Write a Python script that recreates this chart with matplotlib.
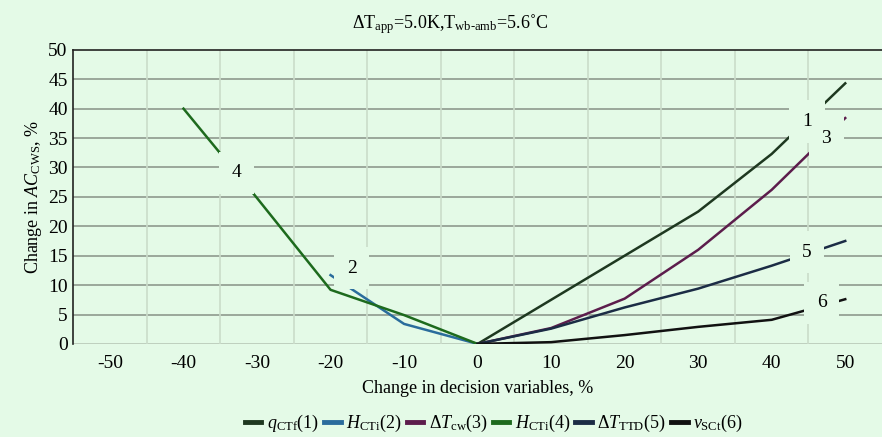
import matplotlib
matplotlib.use('Agg')
import matplotlib.pyplot as plt

plt.rcParams['font.family'] = ['Liberation Serif', 'DejaVu Serif']
plt.rcParams['mathtext.fontset'] = 'custom'
plt.rcParams['mathtext.rm'] = 'Liberation Serif'
plt.rcParams['mathtext.it'] = 'Liberation Serif:italic'
plt.rcParams['axes.unicode_minus'] = False

# data
x_pos = [0, 10, 20, 30, 40, 50]
x_neg = [-40, -30, -20, -10, 0]
x_neg2 = [-20, -10, 0]
q_ctf = [0, 7.5, 15.0, 22.5, 32.3, 44.3]
h_cti2 = [11.7, 3.4, 0]
dt_cw = [0, 2.7, 7.7, 16.0, 26.2, 38.4]
h_cti4 = [40.0, 24.8, 9.2, 4.9, 0]
dt_ttd = [0, 2.6, 6.2, 9.4, 13.3, 17.5]
v_sct = [0, 0.3, 1.5, 2.9, 4.1, 7.6]

xticks = [-50, -40, -30, -20, -10, 0, 10, 20, 30, 40, 50]
yticks = [0, 5, 10, 15, 20, 25, 30, 35, 40, 45, 50]

bg = '#e4fae7'

fig = plt.figure(figsize=(8.82, 4.37), dpi=100, facecolor=bg)
ax = fig.add_axes([0.083, 0.213, 0.917, 0.673], facecolor=bg)

# grid: horizontal at ticks, vertical between category ticks
for y in yticks[1:-1]:
    ax.axhline(y, color='#9aa79a', lw=1.4, zorder=1)
ax.axhline(0, color='#b8c8b8', lw=1.2, zorder=1)
for xv in range(-45, 50, 10):
    ax.axvline(xv, color='#cadcca', lw=1.2, zorder=1)

lw = 1.8
ax.plot(x_pos, q_ctf, color='#1e3820', lw=lw, zorder=3, label=r'$q_{\rm CTf}$(1)')
ax.plot(x_neg2, h_cti2, color='#2a6c9c', lw=lw, zorder=3, label=r'$H_{\rm CTi}$(2)')
ax.plot(x_pos, dt_cw, color='#5c1d4c', lw=lw, zorder=3, label=r'$\Delta T_{\rm cw}$(3)')
ax.plot(x_neg, h_cti4, color='#1d6a1d', lw=lw, zorder=3, label=r'$H_{\rm CTi}$(4)')
ax.plot(x_pos, dt_ttd, color='#1b2c45', lw=lw, zorder=3, label=r'$\Delta T_{\rm TTD}$(5)')
ax.plot(x_pos, v_sct, color='#111111', lw=lw, zorder=3, label=r'$v_{\rm SCt}$(6)')

# curve numbers: background patches break the lines, numbers drawn on top
labels = [('4', -32.8, 29.1), ('2', -17.1, 12.9), ('1', 44.8, 37.8),
          ('3', 47.4, 35.0), ('5', 44.8, 15.6), ('6', 46.8, 7.0)]
for txt, lx, ly in labels:
    ax.text(lx, ly, txt, fontsize=14, ha='center', va='center', zorder=4,
            color=bg, bbox=dict(boxstyle='square,pad=0.65', fc=bg, ec='none'))
for txt, lx, ly in labels:
    ax.text(lx, ly, txt, fontsize=14, ha='center', va='center', zorder=5)

ax.set_xlim(-55, 55)
ax.set_ylim(0, 50)
ax.set_xticks(xticks)
ax.set_yticks(yticks)
ax.tick_params(length=0, labelsize=14, pad=4)
ax.tick_params(axis='x', pad=8)
for s in ['right', 'bottom']:
    ax.spines[s].set_visible(False)
ax.spines['left'].set_color('#222222')
ax.spines['top'].set_color('#222222')
ax.spines['left'].set_linewidth(1.2)
ax.spines['top'].set_linewidth(1.2)

ax.set_xlabel('Change in decision variables, %', fontsize=13, labelpad=6)
ax.set_ylabel(r'Change in $AC_{\rm CWS}$, %', fontsize=13, labelpad=3)
fig.text(0.51, 0.945, r'$\Delta$T$_{\rm app}$=5.0K,T$_{\rm wb‐amb}$=5.6˚C',
         fontsize=13, ha='center', va='center')

fig.legend(loc='center', bbox_to_anchor=(0.56, 0.03), ncol=6, frameon=False,
           fontsize=13, handlelength=0.9, handletextpad=0.3, columnspacing=0.3,
           borderpad=0.1)
for h in fig.legends[0].get_lines():
    h.set_linewidth(3.5)

fig.savefig('out.png', dpi=100, facecolor=bg)
